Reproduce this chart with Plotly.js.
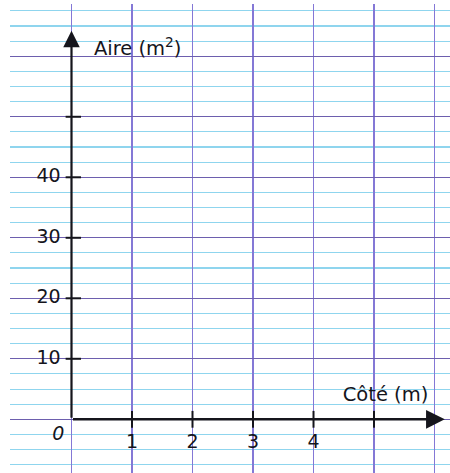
<!DOCTYPE html>
<html><head><meta charset="utf-8">
<script src="https://cdn.plot.ly/plotly-3.0.1.min.js"></script>
<style>html,body{margin:0;padding:0;background:#fff}#chart{width:450px;height:473px}</style>
</head><body><div id="chart"></div>
<script>
// Data
const xTickValues = [1, 2, 3, 4, 5];
const xTickLabels = ['1', '2', '3', '4', ''];
const yTickValues = [10, 20, 30, 40, 50];
const yTickLabels = ['10', '20', '30', '40', ''];
const xGridValues = [0, 1, 2, 3, 4, 5, 6];
const yGridValues = [0, 10, 20, 30, 40, 50, 60];
const originLabel = '0';
const xTitle = 'Côté (m)';
const yTitle = 'Aire (m<sup>2</sup>)';
const xArrowEnd = 6.17;
const yArrowEnd = 64.2;

const ink = '#15151c';
const font = 'DejaVu Sans, sans-serif';

function labelled(vals, labels) {
  const xs = [], ts = [];
  vals.forEach((v, i) => { if (labels[i] !== '') { xs.push(v); ts.push(labels[i]); } });
  return { vals: xs, text: ts };
}
const yl = labelled(yTickValues, yTickLabels);
const xl = labelled(xTickValues, xTickLabels);

const traces = [
  { x: yTickValues.map(() => 0.03), y: yTickValues, mode: 'markers', hoverinfo: 'skip',
    marker: { symbol: 'line-ew', size: 11, line: { width: 2, color: ink } } },
  { x: xTickValues, y: xTickValues.map(() => 0), mode: 'markers', hoverinfo: 'skip',
    marker: { symbol: 'line-ns', size: 12, line: { width: 2, color: ink } } },
  { x: yl.vals.map(() => -0.18), y: yl.vals, mode: 'text', text: yl.text,
    textposition: 'middle left', textfont: { family: font, size: 19, color: ink }, hoverinfo: 'skip' },
  { x: xl.vals, y: xl.vals.map(() => -3.9), mode: 'text', text: xl.text,
    textposition: 'middle center', textfont: { family: font, size: 19, color: ink }, hoverinfo: 'skip' },
  { x: [-0.22], y: [-2.6], mode: 'text', text: ['<i>' + originLabel + '</i>'],
    textposition: 'middle center', textfont: { family: font, size: 19, color: ink }, hoverinfo: 'skip' },
  { x: [0.37], y: [61.0], mode: 'text', text: [yTitle],
    textposition: 'middle right', textfont: { family: font, size: 19.5, color: ink }, hoverinfo: 'skip' },
  { x: [5.19], y: [3.85], mode: 'text', text: [xTitle],
    textposition: 'middle center', textfont: { family: font, size: 19.5, color: ink }, hoverinfo: 'skip' }
];

const layout = {
  width: 450, height: 473,
  margin: { l: 10, r: 0, t: 4, b: 0 },
  paper_bgcolor: '#ffffff', plot_bgcolor: '#ffffff',
  showlegend: false,
  xaxis: { range: [-1.0165, 6.256], tickmode: 'array', tickvals: xGridValues, showticklabels: false,
    showgrid: true, gridcolor: '#8478d6', gridwidth: 1.3, zeroline: false, showline: false, ticks: '', fixedrange: true },
  yaxis: { range: [-8.876, 68.64], tickmode: 'array', tickvals: yGridValues, showticklabels: false,
    showgrid: true, gridcolor: '#6d5fae', gridwidth: 1.2, zeroline: false, showline: false, ticks: '', fixedrange: true,
    minor: { tickmode: 'linear', tick0: 0, dtick: 2.5, showgrid: true, gridcolor: '#8fd5ee', gridwidth: 1.1 } },
  annotations: [
    { x: xArrowEnd, y: 0, ax: 0, ay: 0, xref: 'x', yref: 'y', axref: 'x', ayref: 'y', text: '',
      showarrow: true, arrowhead: 2, arrowsize: 1.5, arrowwidth: 2.5, arrowcolor: ink, standoff: 0 },
    { x: 0, y: yArrowEnd, ax: 0, ay: 0, xref: 'x', yref: 'y', axref: 'x', ayref: 'y', text: '',
      showarrow: true, arrowhead: 2, arrowsize: 1.5, arrowwidth: 2.2, arrowcolor: ink, standoff: 0 }
  ]
};

Plotly.newPlot('chart', traces, layout, { displayModeBar: false, staticPlot: true });
</script>
</body></html>
